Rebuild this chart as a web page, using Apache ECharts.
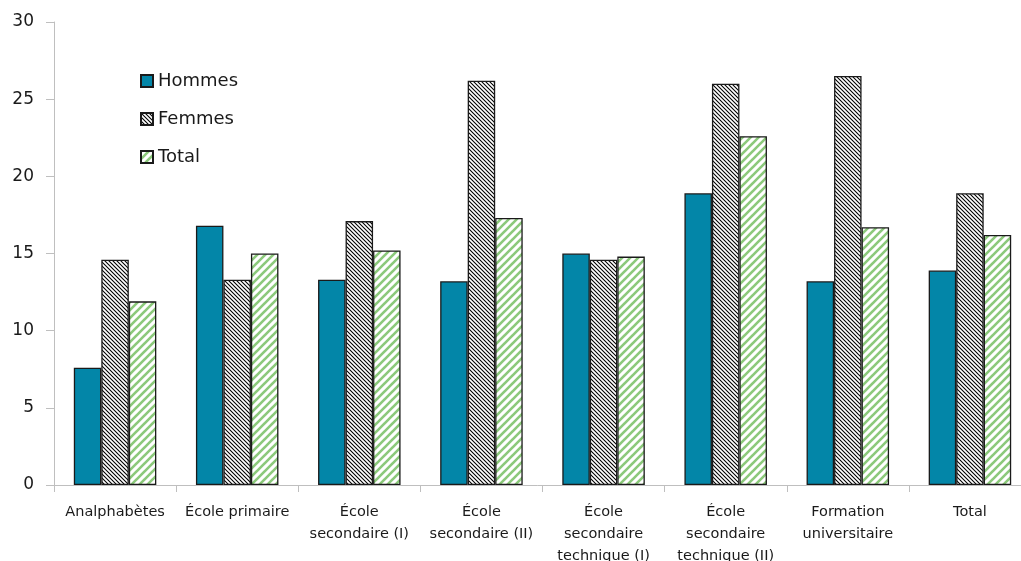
<!DOCTYPE html>
<html>
<head>
<meta charset="utf-8">
<script src="https://cdn.jsdelivr.net/npm/echarts@6/dist/echarts.min.js"></script>
<style>
  html, body { margin: 0; padding: 0; background: #fff; overflow: hidden; }
  #chart { width: 1021px; height: 561px; }
</style>
</head>
<body>
<div id="chart"></div>
<script>
// Categories (education level) and values per group
const categories = [
  'Analphabètes',
  'École primaire',
  'École\nsecondaire (I)',
  'École\nsecondaire (II)',
  'École\nsecondaire\ntechnique (I)',
  'École\nsecondaire\ntechnique (II)',
  'Formation\nuniversitaire',
  'Total'
];
const hommes = [7.6, 16.8, 13.3, 13.2, 15.0, 18.9, 13.2, 13.9];
const femmes = [14.6, 13.3, 17.1, 26.2, 14.6, 26.0, 26.5, 18.9];
const total  = [11.9, 15.0, 15.2, 17.3, 14.8, 22.6, 16.7, 16.2];
const yTicks = [0, 5, 10, 15, 20, 25, 30];

// Diagonal hatch tile; dir = 1 for "\" lines, -1 for "/" lines
function hatch(size, color, width, dir) {
  const c = document.createElement('canvas');
  c.width = size; c.height = size;
  const ctx = c.getContext('2d');
  ctx.fillStyle = '#fff';
  ctx.fillRect(0, 0, size, size);
  ctx.strokeStyle = color;
  ctx.lineWidth = width;
  ctx.lineCap = 'square';
  for (let k = -1; k <= 1; k++) {
    ctx.beginPath();
    if (dir > 0) {
      ctx.moveTo(k * size, 0);
      ctx.lineTo(k * size + size, size);
    } else {
      ctx.moveTo(k * size, size);
      ctx.lineTo(k * size + size, 0);
    }
    ctx.stroke();
  }
  return c;
}

const femmesFill = { image: hatch(4, '#000', 1.1, 1), repeat: 'repeat' };
const totalFill  = { image: hatch(8, '#8cc97b', 2.6, -1), repeat: 'repeat' };

const chart = echarts.init(document.getElementById('chart'), null, { renderer: 'canvas', width: 1021, height: 561 });
const border = { borderColor: '#1a1a1a', borderWidth: 1.3 };

chart.setOption({
  animation: false,
  backgroundColor: '#fff',
  textStyle: { fontFamily: 'DejaVu Sans' },
  // the plot runs a little past the right edge, so the last group's slot is clipped
  grid: { left: 54, top: 22, width: 977, height: 463, containLabel: false, outerBoundsMode: 'none' },
  legend: {
    orient: 'vertical',
    left: 135,
    top: 66,
    itemWidth: 12,
    itemHeight: 12,
    itemGap: 18,
    icon: 'rect',
    textStyle: { fontSize: 18, color: '#1a1a1a', lineHeight: 20, fontFamily: 'DejaVu Sans' },
    data: ['Hommes', 'Femmes', 'Total']
  },
  xAxis: {
    type: 'category',
    data: categories,
    axisLine: { lineStyle: { color: '#bfbfbf', width: 1 } },
    axisTick: { show: true, alignWithLabel: false, length: 7, lineStyle: { color: '#bfbfbf' } },
    axisLabel: {
      interval: 0,
      margin: 16,
      fontSize: 14.5,
      lineHeight: 22,
      color: '#1a1a1a',
      fontFamily: 'DejaVu Sans'
    }
  },
  yAxis: {
    type: 'value',
    min: yTicks[0],
    max: yTicks[yTicks.length - 1],
    interval: 5,
    splitLine: { show: false },
    axisLine: { show: true, lineStyle: { color: '#bfbfbf', width: 1 } },
    axisTick: { show: true, length: 8, lineStyle: { color: '#bfbfbf' } },
    axisLabel: { fontSize: 17, color: '#1a1a1a', margin: 20, fontFamily: 'DejaVu Sans' }
  },
  series: [
    {
      name: 'Hommes', type: 'bar', data: hommes, barWidth: 27.5, barGap: '0%',
      itemStyle: Object.assign({ color: '#0386a8' }, border)
    },
    {
      name: 'Femmes', type: 'bar', data: femmes, barWidth: 27.5, barGap: '0%',
      itemStyle: Object.assign({ color: femmesFill }, border)
    },
    {
      name: 'Total', type: 'bar', data: total, barWidth: 27.5, barGap: '0%',
      itemStyle: Object.assign({ color: totalFill }, border)
    }
  ]
});
</script>
</body>
</html>
